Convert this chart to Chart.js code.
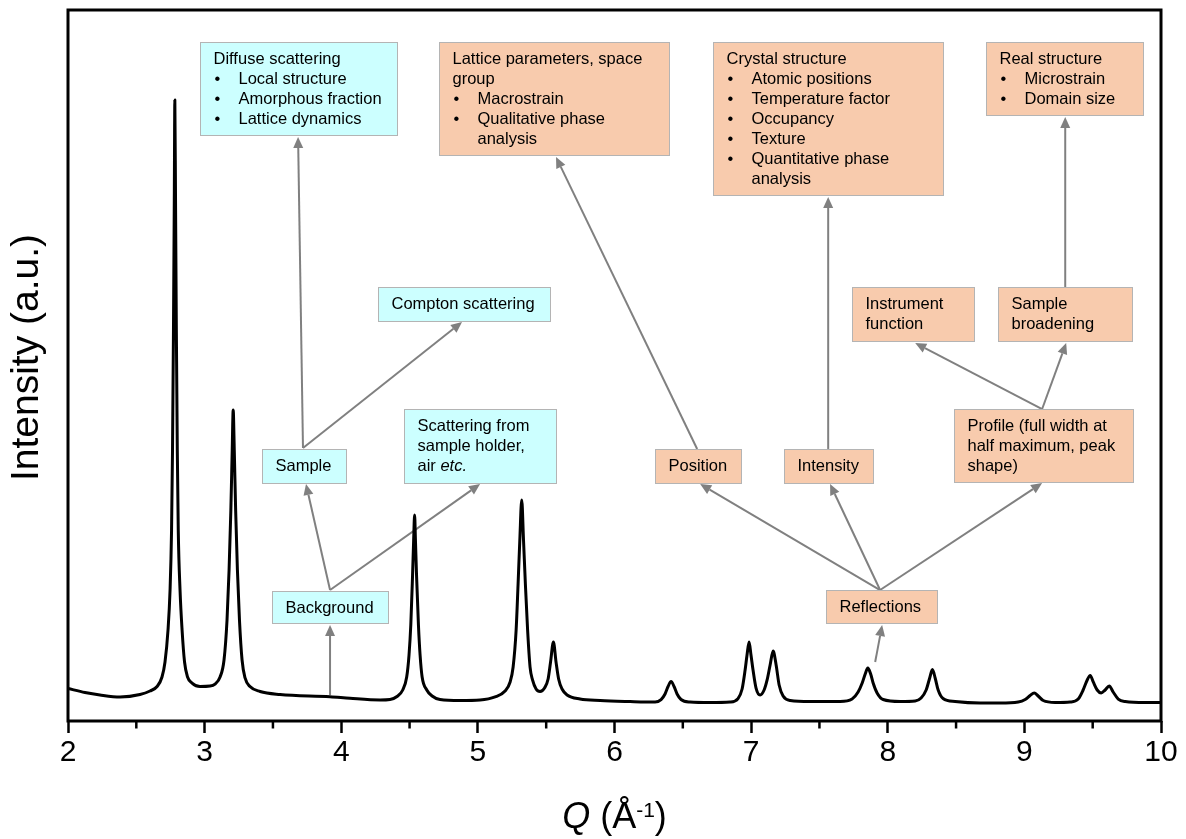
<!DOCTYPE html>
<html><head><meta charset="utf-8">
<script src="https://cdn.jsdelivr.net/npm/chart.js@4.4.1/dist/chart.umd.min.js"></script>
<style>html,body{margin:0;padding:0;background:#fff;}canvas{display:block;}</style>
</head><body>
<canvas id="c" width="1186" height="839"></canvas>
<script>
// ---- data ----
const qValues = [2.000,2.124,2.234,2.381,2.527,2.600,2.652,2.688,2.710,2.732,2.747,2.758,2.765,2.772,2.778,2.782,2.787,2.793,2.800,2.807,2.820,2.835,2.853,2.875,2.908,2.966,3.040,3.076,3.113,3.142,3.164,3.179,3.192,3.202,3.209,3.217,3.227,3.240,3.255,3.274,3.296,3.332,3.406,3.552,3.918,4.064,4.284,4.357,4.408,4.450,4.479,4.496,4.509,4.522,4.530,4.537,4.543,4.551,4.565,4.577,4.592,4.626,4.665,4.723,4.870,5.016,5.126,5.199,5.236,5.258,5.280,5.294,5.307,5.321,5.334,5.348,5.364,5.382,5.400,5.426,5.455,5.488,5.514,5.532,5.553,5.572,5.591,5.616,5.653,5.748,5.895,6.114,6.297,6.341,6.370,6.392,6.414,6.436,6.458,6.487,6.553,6.700,6.846,6.904,6.934,6.956,6.970,6.985,6.999,7.014,7.036,7.066,7.095,7.117,7.139,7.161,7.183,7.205,7.234,7.286,7.432,7.652,7.739,7.783,7.813,7.835,7.854,7.875,7.893,7.922,7.966,8.091,8.201,8.244,8.281,8.307,8.327,8.347,8.369,8.405,8.493,8.676,8.823,8.955,9.006,9.042,9.072,9.101,9.138,9.225,9.335,9.394,9.430,9.460,9.482,9.504,9.533,9.562,9.591,9.621,9.650,9.687,9.738,9.884,10.000];
const intensityValues = [4.57,4.01,3.66,3.38,3.73,4.22,4.85,6.19,8.30,12.80,18.42,26.86,38.12,54.99,73.28,87.34,73.28,54.99,38.12,26.86,18.42,12.80,8.30,6.19,5.34,4.85,4.92,5.20,6.19,8.58,14.21,21.24,29.68,38.12,43.74,38.12,29.68,21.24,14.21,8.58,6.05,4.85,4.15,3.73,3.42,3.19,2.95,3.02,3.45,4.36,6.19,9.28,13.50,20.53,25.46,28.97,25.46,20.53,13.50,9.28,6.19,4.36,3.52,3.02,2.88,2.95,3.38,4.22,5.49,7.59,12.80,19.13,25.46,31.08,25.46,19.13,12.80,7.59,5.77,4.50,4.15,4.64,5.91,8.30,11.11,8.30,5.91,4.50,3.66,3.09,2.88,2.74,2.67,3.02,3.80,4.85,5.56,4.85,3.80,3.02,2.67,2.60,2.67,3.16,4.50,7.17,9.28,11.11,9.28,7.17,4.64,3.66,4.36,5.77,7.88,9.85,7.88,5.06,3.52,2.88,2.74,2.74,3.09,4.08,5.34,6.61,7.45,6.61,5.34,3.94,3.02,2.74,2.81,3.23,4.36,6.05,7.24,6.05,4.36,3.16,2.74,2.53,2.53,2.67,3.02,3.59,3.94,3.52,2.88,2.60,2.67,3.09,4.36,5.77,6.40,5.49,4.36,3.94,4.36,4.92,4.08,3.09,2.74,2.60,2.60];
const xTickLabels = ['2','3','4','5','6','7','8','9','10'];
const xMinorTicks = [2.5,3.5,4.5,5.5,6.5,7.5,8.5,9.5];
const yAxisTitle = 'Intensity (a.u.)';
const xAxisTitleParts = ['Q', ' (Å', '-1', ')'];

// ---- annotation content (anchored in data coordinates: Q, intensity) ----
const CYAN = '#CCFFFF', PEACH = '#F8CBAD';
const boxes = [
  {q:[2.966,4.408], i:[95.50,82.42], fill:CYAN, lines:['Diffuse scattering','• Local structure','• Amorphous fraction','• Lattice dynamics']},
  {q:[4.716,6.400], i:[95.50,79.61], fill:PEACH, lines:['Lattice parameters, space','group','• Macrostrain','• Qualitative phase','  analysis']},
  {q:[6.722,8.406], i:[95.50,73.98], fill:PEACH, lines:['Crystal structure','• Atomic positions','• Temperature factor','• Occupancy','• Texture','• Quantitative phase','  analysis']},
  {q:[8.720,9.870], i:[95.50,85.23], fill:PEACH, lines:['Real structure','• Microstrain','• Domain size']},
  {q:[4.269,5.529], i:[61.04,56.26], fill:CYAN, lines:['Compton scattering']},
  {q:[3.420,4.035], i:[38.26,33.47], fill:CYAN, lines:['Sample']},
  {q:[4.460,5.572], i:[43.88,33.47], fill:CYAN, lines:['Scattering from','sample holder,','air *etc.*']},
  {q:[3.493,4.343], i:[18.28,13.78], fill:CYAN, lines:['Background']},
  {q:[6.297,6.927], i:[38.26,33.47], fill:PEACH, lines:['Position']},
  {q:[7.242,7.893], i:[38.26,33.47], fill:PEACH, lines:['Intensity']},
  {q:[8.486,9.796], i:[43.88,33.61], fill:PEACH, lines:['Profile (full width at','half maximum, peak','shape)']},
  {q:[7.739,8.633], i:[61.04,53.45], fill:PEACH, lines:['Instrument','function']},
  {q:[8.808,9.789], i:[61.04,53.45], fill:PEACH, lines:['Sample','broadening']},
  {q:[7.549,8.362], i:[18.42,13.78], fill:PEACH, lines:['Reflections']}
];
const arrows = [
  [3.918,3.66, 3.918,13.50],
  [3.918,18.42, 3.742,33.33],
  [3.918,18.42, 5.016,33.33],
  [3.720,38.40, 3.684,82.14],
  [3.720,38.40, 4.884,56.12],
  [7.944,18.42, 6.627,33.33],
  [7.944,18.42, 7.578,33.33],
  [7.944,18.42, 9.130,33.47],
  [7.908,8.30, 7.959,13.50],
  [6.605,38.26, 5.572,79.32],
  [7.564,38.26, 7.564,73.70],
  [9.130,43.88, 8.201,53.16],
  [9.130,43.88, 9.306,53.16],
  [9.299,61.04, 9.299,84.95]
];

const FONT = '"Liberation Sans", Arial, sans-serif';
const BOX_FONT = '16.5px ' + FONT;

function drawArrow(ctx, x1, y1, x2, y2) {
  const ang = Math.atan2(y2 - y1, x2 - x1);
  const hl = 11, hw = 5;
  const bx = x2 - hl * Math.cos(ang), by = y2 - hl * Math.sin(ang);
  ctx.strokeStyle = '#808080'; ctx.fillStyle = '#808080'; ctx.lineWidth = 2;
  ctx.beginPath(); ctx.moveTo(x1, y1); ctx.lineTo(bx, by); ctx.stroke();
  ctx.beginPath(); ctx.moveTo(x2, y2);
  ctx.lineTo(bx + hw * Math.sin(ang), by - hw * Math.cos(ang));
  ctx.lineTo(bx - hw * Math.sin(ang), by + hw * Math.cos(ang));
  ctx.closePath(); ctx.fill();
}

const annotationPlugin = {
  id: 'annot',
  beforeDatasetsDraw(chart) {
    const ctx = chart.ctx, xs = chart.scales.x, ys = chart.scales.y;
    ctx.save();
    arrows.forEach(a => drawArrow(ctx, xs.getPixelForValue(a[0]), ys.getPixelForValue(a[1]), xs.getPixelForValue(a[2]), ys.getPixelForValue(a[3])));
    boxes.forEach(b => {
      const l = Math.round(xs.getPixelForValue(b.q[0])) + 0.5, r = Math.round(xs.getPixelForValue(b.q[1])) + 0.5;
      const t = Math.round(ys.getPixelForValue(b.i[0])) + 0.5, bt = Math.round(ys.getPixelForValue(b.i[1])) + 0.5;
      ctx.fillStyle = b.fill; ctx.fillRect(l, t, r - l, bt - t);
      ctx.strokeStyle = '#B4B4B4'; ctx.lineWidth = 1; ctx.strokeRect(l, t, r - l, bt - t);
      ctx.fillStyle = '#000'; ctx.textBaseline = 'middle'; ctx.textAlign = 'left';
      b.lines.forEach((ln, k) => {
        const y = t + 17 + k * 20;
        let x = l + 13;
        let txt = ln;
        if (ln.startsWith('• ')) { ctx.font = BOX_FONT; ctx.fillText('•', l + 14, y); x = l + 38; txt = ln.slice(2); }
        else if (ln.startsWith('  ')) { x = l + 38; txt = ln.slice(2); }
        txt.split('*').forEach((seg, si) => {
          if (!seg) return;
          ctx.font = (si % 2 ? 'italic ' : '') + BOX_FONT;
          ctx.fillText(seg, x, y);
          x += ctx.measureText(seg).width;
        });
      });
    });
    ctx.restore();
  },
  afterDraw(chart) {
    const ctx = chart.ctx, a = chart.chartArea, xs = chart.scales.x;
    ctx.save();
    ctx.strokeStyle = '#000'; ctx.lineWidth = 3;
    ctx.strokeRect(a.left, a.top, a.right - a.left, a.bottom - a.top);
    ctx.lineWidth = 2.5;
    xMinorTicks.forEach(v => {
      const px = xs.getPixelForValue(v);
      ctx.beginPath(); ctx.moveTo(px, a.bottom); ctx.lineTo(px, a.bottom + 7.5); ctx.stroke();
    });
    // x-axis title with italic Q and superscript
    const fonts = ['italic 36px ' + FONT, '36px ' + FONT, '21px ' + FONT, '36px ' + FONT];
    let w = 0;
    const widths = xAxisTitleParts.map((p, k) => { ctx.font = fonts[k]; const m = ctx.measureText(p).width; w += m; return m; });
    let x = (a.left + a.right) / 2 - w / 2;
    ctx.fillStyle = '#000'; ctx.textBaseline = 'alphabetic'; ctx.textAlign = 'left';
    xAxisTitleParts.forEach((p, k) => {
      ctx.font = fonts[k];
      ctx.fillText(p, x, k === 2 ? 816.5 : 827.5);
      x += widths[k];
    });
    // y-axis title (rotated)
    ctx.translate(38, (a.top + a.bottom) / 2 - 8);
    ctx.rotate(-Math.PI / 2);
    ctx.font = '39px ' + FONT; ctx.textAlign = 'center'; ctx.textBaseline = 'alphabetic';
    ctx.fillText(yAxisTitle, 0, 0);
    ctx.restore();
  }
};

new Chart(document.getElementById('c'), {
  type: 'scatter',
  data: {
    datasets: [{
      data: qValues.map((q, k) => ({x: q, y: intensityValues[k]})),
      showLine: true,
      borderColor: '#000',
      borderWidth: 3,
      pointRadius: 0,
      cubicInterpolationMode: 'monotone',
      borderJoinStyle: 'round'
    }]
  },
  options: {
    responsive: false,
    devicePixelRatio: 1,
    animation: false,
    layout: {padding: {top: 10, right: 25, left: 0, bottom: 0}},
    plugins: {legend: {display: false}, tooltip: {enabled: false}},
    scales: {
      x: {
        type: 'linear', min: 2, max: 10,
        afterFit: s => { s.height = 118; },
        border: {display: false},
        grid: {drawOnChartArea: false, drawTicks: true, tickLength: 12, tickWidth: 2.5, tickColor: '#000'},
        ticks: {stepSize: 1, padding: 2, color: '#000', font: {family: FONT, size: 30},
                callback: v => xTickLabels[Math.round(v) - 2]}
      },
      y: {
        min: 0, max: 100,
        afterFit: s => { s.width = 68; },
        border: {display: false},
        grid: {display: false},
        ticks: {display: false},
        title: {display: false, text: yAxisTitle}
      }
    }
  },
  plugins: [annotationPlugin]
});
</script>
</body></html>
